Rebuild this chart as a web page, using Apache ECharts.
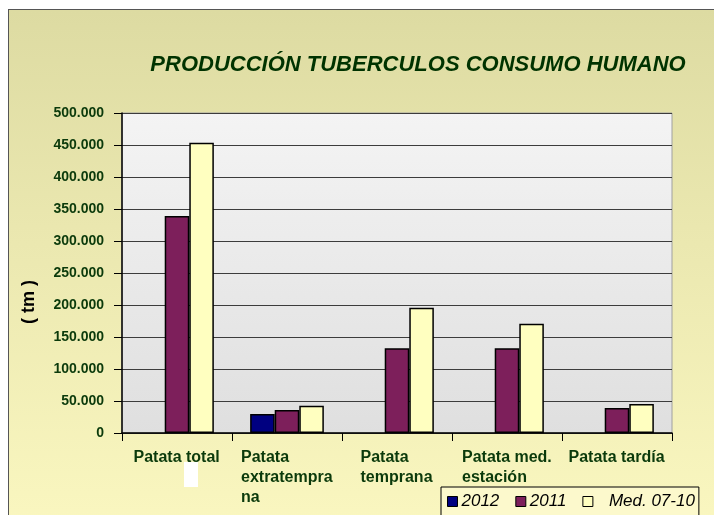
<!DOCTYPE html>
<html><head><meta charset="utf-8">
<script src="https://cdn.jsdelivr.net/npm/echarts@6/dist/echarts.min.js"></script>
<style>
html,body{margin:0;padding:0;background:#fff;}
#wrap{position:relative;width:714px;height:515px;overflow:hidden;background:#fff;}
#bg{position:absolute;left:8px;top:9px;width:720px;height:520px;border-left:1.5px solid #555;border-top:1.5px solid #555;background:linear-gradient(to bottom,#dddba2 0%,#ebe8b0 45%,#faf7c0 100%);}
#chart{position:absolute;left:0;top:0;width:714px;height:515px;}
</style></head>
<body>
<div id="wrap"><div id="bg"></div><div id="chart"></div></div>
<script>
const categories = ['Patata total', 'Patata\nextratempra\nna', 'Patata\ntemprana', 'Patata med.\nestación', 'Patata tardía'];
const seriesNames = ['2012', '2011', 'Med. 07-10'];
const values2012 = [null, 29700, null, null, null];
const values2011 = [339000, 36000, 132300, 132300, 39000];
const valuesMed = [453600, 42700, 195800, 170800, 45300];
const yTicks = {min: 0, max: 500000, interval: 50000};

const FONT = '"Liberation Sans", Arial, sans-serif';
const green = '#0b3a0b';
const catFont = 16;

// measure widest line of each category label so multi-line labels are left-aligned but centred
const cv = document.createElement('canvas').getContext('2d');
cv.font = 'bold ' + catFont + 'px ' + FONT;
const rich = {};
categories.forEach((c, i) => {
  const w = Math.max(...c.split('\n').map(l => cv.measureText(l).width));
  rich['c' + i] = {width: Math.ceil(w), align: 'left', fontSize: catFont, fontWeight: 'bold',
    fontFamily: FONT, color: green, lineHeight: 20};
});

function fmt(v) { return String(v).replace(/\B(?=(\d{3})+(?!\d))/g, '.'); }

const legendItems = seriesNames.map((n, i) => ({
  name: n,
  textStyle: {padding: i === 2 ? [0, 0, 0, 11] : [0, 0, 0, -1]}
}));

const chart = echarts.init(document.getElementById('chart'), null, {renderer: 'canvas'});
chart.setOption({
  backgroundColor: 'transparent',
  animation: false,
  title: {
    text: 'PRODUCCIÓN TUBERCULOS CONSUMO HUMANO',
    left: 418, top: 54, textAlign: 'center', padding: 0,
    textStyle: {fontFamily: FONT, fontSize: 22, fontWeight: 'bold', fontStyle: 'italic', color: '#003300'}
  },
  legend: {
    data: legendItems,
    left: 441, top: 487,
    orient: 'horizontal',
    backgroundColor: '#fcf9cc',
    borderColor: '#000', borderWidth: 1,
    padding: [6, 4, 14, 6],
    itemWidth: 10, itemHeight: 10, itemGap: 16,
    icon: 'rect',
    itemStyle: {borderColor: '#000', borderWidth: 1},
    textStyle: {fontFamily: FONT, fontSize: 17, fontStyle: 'italic', color: '#000'}
  },
  grid: {
    left: 122, right: 42, top: 113, bottom: 82,
    show: true, borderColor: '#a0a0a0', borderWidth: 1,
    backgroundColor: new echarts.graphic.LinearGradient(0, 0, 0, 1, [
      {offset: 0, color: '#f4f4f4'}, {offset: 1, color: '#dfdfdf'}]),
    outerBoundsMode: 'none'
  },
  xAxis: {
    type: 'category',
    data: categories,
    axisLine: {lineStyle: {color: '#000', width: 1.5}},
    axisTick: {show: true, length: 8, alignWithLabel: false, lineStyle: {color: '#000', width: 1}},
    axisLabel: {
      interval: 0, margin: 15, align: 'center',
      formatter: (v, i) => v.split('\n').map(l => '{c' + i + '|' + l + '}').join('\n'),
      rich: rich
    },
    splitLine: {show: false}
  },
  yAxis: {
    type: 'value',
    min: yTicks.min, max: yTicks.max, interval: yTicks.interval,
    name: '( tm )', nameLocation: 'middle', nameGap: 84, nameRotate: 90,
    nameTextStyle: {fontFamily: FONT, fontSize: 18, fontWeight: 'bold', color: '#000', padding: [0, 58, 0, 0]},
    axisLine: {show: true, lineStyle: {color: '#000', width: 1.5}},
    axisTick: {show: true, length: 8, lineStyle: {color: '#000', width: 1}},
    axisLabel: {margin: 18, formatter: fmt, fontFamily: FONT, fontSize: 14, fontWeight: 'bold', color: green},
    splitLine: {show: true, lineStyle: {color: '#3c3c3c', width: 1.2}}
  },
  series: [
    {name: seriesNames[0], type: 'bar', data: values2012, barGap: '0%', barCategoryGap: '33%',
      itemStyle: {color: '#000080', borderColor: '#000', borderWidth: 1.5}},
    {name: seriesNames[1], type: 'bar', data: values2011, barGap: '0%', barCategoryGap: '33%',
      itemStyle: {color: '#7d1f5b', borderColor: '#000', borderWidth: 1.5}},
    {name: seriesNames[2], type: 'bar', data: valuesMed, barGap: '0%', barCategoryGap: '33%',
      itemStyle: {color: '#ffffc0', borderColor: '#000', borderWidth: 1.5}}
  ],
  graphic: [
    {type: 'rect', left: 184, top: 462, shape: {width: 14, height: 25}, style: {fill: '#ffffff'}, silent: true}
  ]
});
</script>
</body></html>
